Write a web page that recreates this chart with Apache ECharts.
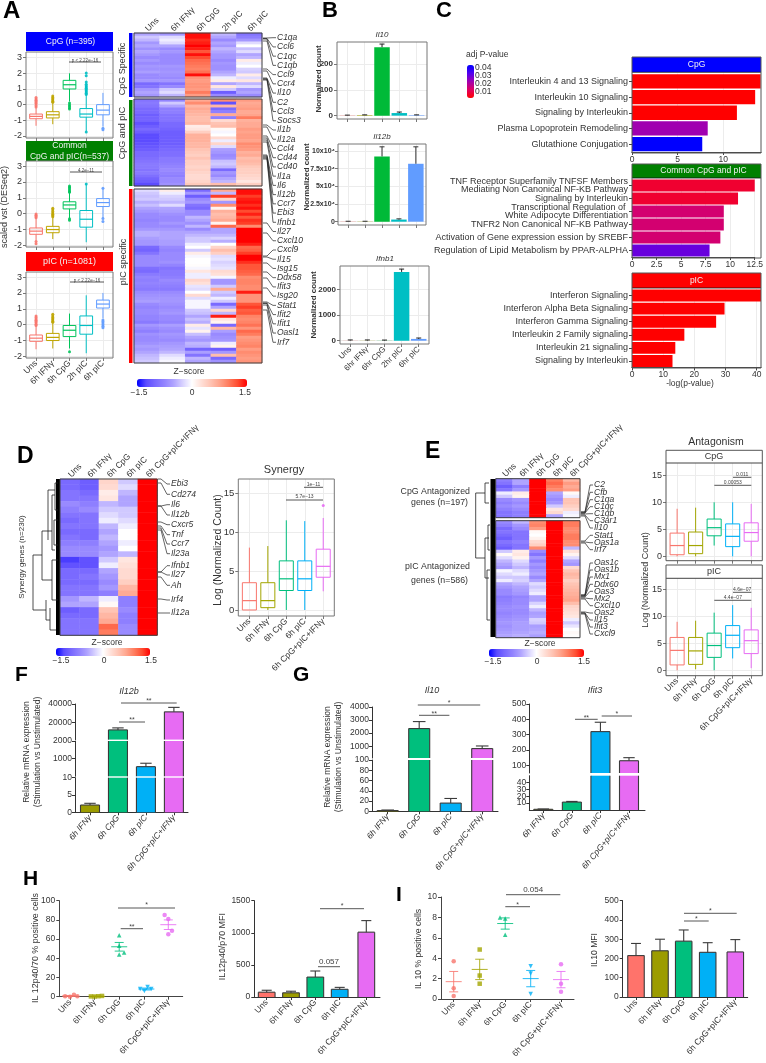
<!DOCTYPE html>
<html><head><meta charset="utf-8">
<style>html,body{margin:0;padding:0;background:#fff}#c{width:766px;height:1063px}</style>
<script src="https://cdn.jsdelivr.net/npm/echarts@6/dist/echarts.min.js"></script>
</head><body><div id="c"></div>
<script>
// ---------- DATA ----------
const timeA=['Uns','6h IFNγ','6h CpG','2h pIC','6h pIC'];
const timeB=['Uns','6hr IFNγ','6hr CpG','2hr pIC','6hr pIC'];
const stim5=['Uns','6h IFNγ','6h CpG','6h pIC','6h CpG+pIC+IFNγ'];
const stim4=['6h IFNγ','6h CpG','6h pIC','6h CpG+pIC+IFNγ'];
// box stats: min,q1,median,q3,max
const boxACpG=[[-1.35,-.9,-.75,-.6,-.2],[-1.25,-.85,-.65,-.45,.1],[.2,1.0,1.27,1.55,2.0],[-1.7,-.8,-.6,-.25,.6],[-1.4,-.65,-.35,0,.75]];
const outACpG=[[0,-.15],[0,-.05],[0,.05],[0,.12],[0,.2],[0,.28],[0,.36],[0,.45],[1,.15],[1,.22],[1,.3],[1,.38],[1,.46],[1,.55],[2,.1],[2,0],[2,-.1],[2,-.2],[2,-.28],[3,.65],[3,.72],[3,.8],[3,.88],[3,.96],[3,1.04],[3,1.12],[3,1.2],[3,1.3],[3,1.45],[3,1.85],[3,2.02],[3,-1.75],[4,-1.5],[4,-1.6]];
const boxABoth=[[-1.7,-1.3,-1.1,-.9,-.3],[-1.6,-1.2,-1.0,-.8,-.25],[-.3,.3,.55,.75,1.3],[-1.8,-.85,-.35,.2,1.85],[-.3,.45,.7,.95,1.6]];
const outABoth=[[0,-.25],[0,-.18],[0,-.1],[0,-.02],[0,-1.75],[0,-1.9],[1,-.2],[1,-.12],[1,-.04],[1,.05],[1,.14],[1,.24],[1,.34],[2,1.35],[2,1.42],[2,1.5],[2,1.58],[2,1.66],[2,1.75],[2,-.32],[2,-.42],[3,1.87],[4,1.6],[4,-.3],[4,-.5]];
const boxApIC=[[-1.55,-1.05,-.85,-.65,-.1],[-1.5,-1.0,-.8,-.55,.1],[-1.5,-.75,-.35,-.05,.7],[-1.8,-.6,-.05,.55,1.85],[.4,1.05,1.3,1.55,2.0]];
const outApIC=[[0,-.05],[0,.03],[0,.12],[0,.2],[0,.28],[0,.36],[0,.46],[0,.55],[1,.15],[1,.22],[1,.3],[1,.38],[1,.46],[1,.55],[1,.65],[2,-1.7],[4,.3],[4,.2],[4,.1],[4,0],[4,-.1],[4,-.2]];
const heatACpG=[[-.5,-.6,1.45,-.4,-.9],[-.3,-.2,1.45,-.5,-.8],[-.4,-.1,1.35,-.7,-.6],[-.6,-.2,1.4,-.5,-.2],[-.5,-.5,1.5,-.6,0],[-.65,-.7,1.4,-.4,-.35],[-.5,-.6,1.2,-.5,-.2],[-.6,-.7,1.45,-.6,-.5],[-.7,-.7,1.25,-.6,-.4],[-.6,-.7,1.1,-.7,.15],[-.7,-.7,1.05,-.6,-.1],[-.6,-.6,1.0,-.65,0],[-.65,-.65,.95,-.65,-.25],[-.55,-.6,1.05,-.5,-.3],[-.7,-.65,1.45,-.4,.15],[-.7,-.7,.85,-.1,-.2],[-.6,-.6,.8,.15,.2],[-1.0,-.9,.85,-.5,-.4],[-.9,-.7,.85,.2,-.2],[-.6,-.3,.8,-.3,-.6],[-.5,-.2,1.0,-1.1,-.5],[-.6,-.4,.8,-.7,-.7]];
const heatABoth=[[-.9,-.75,.7,.9,.8],[-.85,-.3,.9,-1.2,.7],[-.9,-.5,.6,.6,.75],[-1.0,-.8,.7,-1.0,.8],[-1.0,-.8,.65,-.8,.7],[-1.1,-.9,.6,.7,.75],[-1.05,-.9,.55,-.8,1.0],[-1.05,-.9,.55,.3,.65],[-1.2,-1.0,.6,.5,.7],[-1.1,-1.0,.15,.55,.7],[-1.0,-1.05,.2,.05,.8],[-1.1,-1.1,.4,-.05,.75],[-1.25,-1.1,.65,0,.8],[-1.25,-1.1,.65,.3,.8],[-1.25,-1.1,.65,-.1,.75],[-1.2,-1.1,.6,.35,.9],[-1.15,-1.05,.6,-.2,.85],[-1.1,-1,.5,-.55,.8],[-1.0,-.95,.45,-.6,.65],[-1.0,-.95,.4,-.7,.7],[-.95,-.85,.5,-.65,.55],[-.9,-.85,.4,-.35,.6],[-.85,-.8,.4,-.3,.55],[-.85,-.75,.35,-.4,.45],[-.9,-.7,.4,-1.0,.4],[-.85,-.75,.35,-.6,.4],[-.95,-.8,.3,-.7,.35],[-1.05,-.7,.3,-.5,.3],[-1.1,-.7,.35,-.4,.2],[-1.25,-.65,.45,.55,.4]];
const heatApIC=[[-.2,.15,-1.0,.7,1.45],[-.3,-.1,-.6,-.4,1.45],[-.35,-.25,-1.1,1.3,1.3],[-.3,-.3,-.7,.35,1.4],[-.45,-.4,-.6,-.6,1.45],[-.35,-.2,-.9,.9,1.35],[-.5,-.5,-1.0,.1,1.45],[-.6,-.55,-.7,.65,1.25],[-.7,-.65,-.7,.55,1.4],[-.7,-.7,-.4,.6,1.2],[-.75,-.7,-.5,.7,1.35],[-.7,-.6,-.65,.1,1.3],[-.7,-.7,-.4,1.1,.9],[-.6,-.6,-.7,-.5,1.5],[-.45,-.5,-.5,-.5,1.5],[-.45,-.5,-.4,-.4,1.5],[-.55,-.5,-.3,-.25,1.5],[-.6,-.55,-.3,-.45,1.5],[-.6,-.55,-.1,0,1.4],[-1.0,-.7,.0,.35,1.1],[-1.05,-.75,-.3,.55,1.15],[-.9,-.7,.15,.4,1.3],[-.7,-.7,-.05,-.2,1.5],[-.7,-.7,.0,-.15,1.5],[-.7,-.65,0,-.25,1.35],[-.7,-.75,.02,-.2,1.2],[-.95,-.9,-.05,-.15,1.2],[-1.0,-.85,.2,.3,1.15],[-.85,-.85,-.1,.25,1.1],[-.75,-.8,-.1,-.05,.9],[-.8,-.7,.35,-.6,.95],[-.75,-.75,.25,-.6,.95],[-.8,-.8,-.15,-.3,.9],[-.85,-.85,-.2,.7,.9],[-.7,-.7,0,-.3,1.4],[-.65,-.65,.3,-.4,.85],[-.6,-.6,-.2,-.1,.85],[-.55,-.6,-.05,-.3,.85],[-.7,-.65,-.05,-1.0,1.2],[-.75,-.7,-.05,-.5,1.3],[-.7,-.65,-.3,.3,1.15],[-.7,-.6,-.35,-.4,1.2],[-.75,-.7,-.5,1.4,.95],[-.75,-.7,-.35,.2,.9],[-.85,-.75,-.45,.1,.95],[-.6,-.55,.15,-1.0,1.05],[-.7,-.65,-.15,.6,.85],[-.8,-.7,.1,-.55,1.1],[-.65,-.6,-.35,-.7,1.0],[-.7,-.65,-.5,-.65,.8],[-.7,-.7,-.6,-.6,.85],[-.65,-.6,-.4,-.1,.9],[-.55,-.55,-.45,.1,.95],[-.6,-.5,-1.05,-1.1,.8],[-.5,-.4,-.55,-.6,.9],[-.4,-.2,-.9,.55,.85],[-.35,-.1,-.4,-1.0,.8],[-.3,-.05,-.5,-.65,.85]];
const heatD=[[-1,-1.1,.35,-.3,1.5],[-1,-1.1,.3,-.2,1.5],[-.9,-1,.15,-.4,1.5],[-.9,-.9,.2,-.5,1.5],[-.7,-.8,-.4,-.5,1.5],[-.8,-.7,-.3,-.3,1.5],[-.9,-.9,-.2,-.3,1.5],[-1,-.9,-.1,-.2,1.5],[-.9,-.9,-.4,-.1,1.5],[-1,-1,-.5,0,1.5],[-.9,-1,-.4,0,1.5],[-.8,-.8,-.5,-.1,1.5],[-.7,-.7,-.6,0,1.5],[-.7,-.7,-.5,-.4,1.5],[-1.3,-1.2,-.3,.2,1.5],[-1.2,-1.2,-.1,.25,1.5],[-1,-1,-.5,.3,1.5],[-1,-.9,-.6,.3,1.5],[-1,-1,-.7,.4,1.5],[-.9,-.9,-.6,.6,1.5],[-.9,-.9,-.8,.7,1.5],[-.6,-.4,-.1,-.8,1.5],[-.5,-.5,.05,-.8,1.5],[-1.1,-1,.5,-.7,1.5],[-1,-1,.6,-.8,1.5],[-.9,-.9,.7,-.8,1.5],[-.9,-.9,1.1,-.7,1.5],[-.9,-.9,1.0,-.7,1.5]];
const heatEup=[[-.8,-.5,1.5,1.0,.6],[-.9,-.5,1.5,1.1,.8],[-1.1,-.8,1.5,1.0,.7],[-.9,-.6,1.5,.9,.8],[-.1,.15,1.5,-.5,.05],[-.3,.1,1.5,-.6,-.1],[-.7,-.6,1.5,-.7,.5],[-.8,-.7,1.5,-.6,.5],[-.7,-.6,1.5,-.3,.4],[-.8,-.7,1.5,.2,.3],[-.9,-.8,1.5,.3,-.1],[-.9,-.8,1.5,-.5,-.05]];
const heatElow=[[-.7,-.4,.9,1.5,1.0],[-.8,-.6,.95,1.5,1.0],[-1,-.7,.8,1.5,.9],[-.9,-.9,.05,1.5,.9],[-1.0,-.9,0,1.5,1.0],[-1.1,-.9,.1,1.5,1.0],[-.9,-.8,.3,1.5,.9],[-1,-.9,.4,1.5,.9],[-1.1,-.9,.9,1.5,-.4],[-.3,.15,-.7,1.5,.25],[.05,.2,-.9,1.5,.1],[-.2,.1,-.6,1.5,-.2],[-.4,-.2,-.8,1.5,-.5],[-.5,-.3,-.6,1.5,-.6],[-.6,-.4,-.7,1.5,.3],[-.05,-.2,-.6,1.5,.5],[-.2,-.1,-.5,1.5,.6],[-.3,-.3,-.7,1.5,.55],[-.1,-.25,-.5,1.5,.4],[-.5,-.4,-.2,1.5,.5],[-.6,-.5,-.3,1.5,.55],[-.7,-.55,-.2,1.5,.6],[-.7,-.6,-.1,1.5,.65],[-.85,-.75,-.5,1.5,.7],[-.8,-.7,-.5,1.5,.75],[-.75,-.7,-.25,1.5,.55],[-.7,-.65,-.1,1.5,.35],[-.7,-.7,-.4,1.5,.3],[-.75,-.7,-.55,1.5,.25],[-.7,-.65,-.5,1.5,.2],[-.65,-.6,-.25,1.5,-.1],[-.6,-.55,-.3,1.5,-.3],[-.65,-.55,-.55,1.5,-.15],[-.6,-.55,-.5,1.5,0],[-.55,-.5,-.45,1.5,.05],[-.5,-.45,-.55,1.5,.02]];
const bIl10=[1,2,265,10,2], bIl10Err=[2,3,277,14,3];
const bIl12b=[300,300,92400,3000,82000], bIl12bErr=[600,600,106000,4000,106000];
const bIfnb1=[5,5,5,2680,70], bIfnb1Err=[30,30,25,2790,105];
const cCpGNames=['Interleukin 4 and 13 Signaling','Interleukin 10 Signaling','Signaling by Interleukin','Plasma Lopoprotein Remodeling','Glutathione Conjugation'];
const cCpGVals=[14.1,13.5,11.5,8.3,7.7], cCpGP=[.004,.004,.004,.024,.044];
const cBothNames=['TNF Receptor Superfamily TNFSF Members\nMediating Non Canonical NF-KB Pathway','Signaling by Interleukin','Transcriptional Regulation of \nWhite Adipocyte Differentiation','TNFR2 Non Canonical NF-KB Pathway','Activation of Gene expression ession by SREBF','Regulation of Lipid Metabolism by PPAR-ALPHA'];
const cBothVals=[12.5,10.8,9.35,9.35,9,7.9], cBothP=[.009,.009,.016,.016,.016,.031];
const cpICNames=['Interferon Signaling','Interferon Alpha Beta Signaling','Interferon Gamma Signaling','Interleukin 2 Family signaling','Interleukin 21 signaling','Signaling by Interleukin'];
const cpICVals=[41.4,29.7,27,16.8,13.9,13], cpICP=[.004,.004,.004,.004,.004,.004];
const boxSyn=[[0,0,1.2,3.5,8],[0,.3,1.2,3.5,8.2],[0,2.5,4,6.3,11.5],[0,2.5,4,6.3,11.4],[2.4,4.2,5.6,7.8,11.8]];
const outSyn=[[4,13.4]];
const boxEC=[[0,.3,2,4.3,8.8],[0,.5,2,4.5,9],[2,3.8,5.3,6.9,10],[0,1.8,3.7,6,10],[0,2.8,4.4,6.2,9.7]];
const boxEP=[[0,1,3.7,6.1,9],[.2,1.1,3.6,6.1,9.2],[0,2.4,4.6,6.9,10.7],[2.2,4.2,6.5,8.3,12.1],[.4,3.1,5.5,7.5,11.6]];
const fIl12b=[2.1,12350,555,31600], fIl12bErr=[2.6,14500,746,36400];
const gIl10=[1.5,2350,16,820], gIl10Err=[2.5,2885,25,1020];
const gIfit3=[1,11.5,320,130], gIfit3Err=[1.5,12.5,381,150];
const hPct=[[[-.2,.5],[0,0],[.16,2],[.3,.5]],[[-.15,.3],[0,.2],[.15,.5],[.3,.8]],[[0,64],[0,53],[0,44],[.2,46]],[[-.15,8],[.02,6],[.15,10],[.3,8]],[[-.15,85],[0,81],[.15,68.7],[0,65]]];
const hPctMean=[[0,.8,.4],[.1,.4,.15],[0,52,4.5],[.1,8,1],[0,75,5]];
const hMfi=[75,65,310,120,1010], hMfiErr=[105,90,405,150,1190];
const iPct=[[[0,3.7],[0,1.05],[0,.3]],[[0,4.85],[0,2.3],[0,1.5]],[[-.2,8],[0,7.9],[0,6.3]],[[0,3.2],[0,2.5],[0,.5]],[[0,3.4],[0,1.5],[0,.7]]];
const iPctMean=[[0,1.7,1.0],[0,2.9,1.0],[0,7.4,.55],[0,2,.8],[0,1.9,.8]];
const iMfi=[215,240,290,232,234], iMfiErr=[278,300,348,282,298];
const genesA=['C1qa','Ccl6','C1qc','C1qb','Ccl9','Ccr4','Il10','C2','Ccl3','Socs3','Il1b','Il12a','Ccl4','Cd44','Cd40','Il1a','Il6','Il12b','Ccr7','Ebi3','Ifnb1','Il27','Cxcl10','Cxcl9','Il15','Isg15','Ddx58','Ifit3','Isg20','Stat1','Ifit2','Ifit1','Oasl1','Irf7'];
const genesD=['Ebi3','Cd274','Il6','Il12b','Cxcr5','Tnf','Ccr7','Il23a','Ifnb1','Il27','Ah','Irf4','Il12a'];
const genesE=['C2','Cfb','C1qa','C1qc','C1qb','C3ar1','Il10','Stat1','Oas1a','Irf7','Oas1c','Oas1b','Mx1','Ddx60','Oas3','Mx2','Cxcl10','Oas2','Il15','Ifit3','Cxcl9'];

// ---------- STYLES ----------
const FF='"Liberation Sans",Arial,sans-serif', TXT='#333';
const palA=['#F8766D','#BFA500','#00C45A','#00BFC4','#619CFF'];
const palB=['#F8766D','#A3A500','#00BA38','#00BFC4','#619CFF'];
const pal5=['#F8766D','#A3A500','#00BF7D','#00B0F6','#E76BF3'];
const palBar=['#FF736B','#9C9C00','#00BF7D','#00B0F6','#E76BF3'];
const pal4=palBar.slice(1);
const GRID='#ececec', ZC=['#0000ff','#5c4cff','#7a6aff','#9384ff','#b0a4ff','#d8d2ff','#ffffff','#ffe0d8','#ffc4b4','#ffa48c','#ff7c5e','#ff4c30','#ff0000'];

const grids=[],xAxes=[],yAxes=[],series=[],gfx=[],vms=[];
const T=(x,y,text,o={})=>gfx.push({type:'text',x,y,rotation:o.rot||0,z:100,silent:true,style:{text,fontFamily:FF,fontSize:o.size||8,fontStyle:o.style||'normal',fontWeight:o.weight||'normal',fill:o.color||TXT,textAlign:o.align||'center',textVerticalAlign:'middle',lineHeight:o.lh}});
const L=(pts,o={})=>gfx.push({type:'polyline',z:o.z||90,silent:true,shape:{points:pts},style:{stroke:o.color||'#333',lineWidth:o.w||.8,fill:'none'}});
const R=(x,y,w,h,fill,stroke)=>gfx.push({type:'rect',z:stroke&&fill==='none'?95:80,silent:true,shape:{x,y,width:w,height:h},style:{fill:fill==='none'?'transparent':fill,stroke:stroke||'none',lineWidth:stroke?1:0}});
const BR=(x1,x2,y,label,size,dy,col)=>{L([[x1,y],[x2,y]],{color:col||'#444',w:.9});T((x1+x2)/2,y-(dy==null?3:dy),label,{size:size||6,color:col||'#444'})};
const STRIP=(x,y,w,h,col,text,size,dx)=>{R(x,y,w,h,col);T(x+w/2+(dx||0),y+h/2,text,{size:size||9,color:'#f2f2f2',lh:11.5})};

function P(c){
  grids.push({left:c.l,top:c.t,width:c.w,height:c.h,show:false});
  const i=grids.length-1, xt=c.xt||[], xl=c.xl||[];
  xAxes.push({gridIndex:i,type:'value',min:c.xmin,max:c.xmax,
    axisLine:{show:c.xline!==false,onZero:false,lineStyle:{color:c.axisColor||'#333',width:c.axisW||1}},
    axisTick:{show:c.xtick!==false,customValues:xt,length:3,lineStyle:{color:c.axisColor||'#333'}},
    axisLabel:{show:!!c.xshow,customValues:xt,formatter:v=>xl[xt.indexOf(v)]??'',rotate:c.rot==null?45:c.rot,fontSize:c.xsize||8.5,fontFamily:FF,color:TXT,fontStyle:c.xstyle||'normal',margin:c.xmargin||4},
    splitLine:{show:!!c.gridlines,lineStyle:{color:GRID,width:1}},minorSplitLine:{show:false}});
  yAxes.push({gridIndex:i,type:'value',min:c.ymin,max:c.ymax,
    axisLine:{show:c.yline!==false,onZero:false,lineStyle:{color:c.axisColor||'#333',width:c.axisW||1}},
    axisTick:{show:true,customValues:c.yt,length:3,lineStyle:{color:c.axisColor||'#333'}},
    axisLabel:{show:c.yshow!==false,customValues:c.yt,formatter:c.yfmt||(v=>String(v)),fontSize:c.ysize||8.5,fontFamily:FF,color:TXT,fontWeight:c.yweight||'normal',margin:c.ymargin||4},
    splitLine:{show:!!c.gridlines,lineStyle:{color:GRID,width:1}}});
  if(c.frame)R(c.l,c.t,c.w,c.h,'none',c.frame);
  return i;
}
function boxes(g,stats,pal,out,hw){
  series.push({type:'custom',xAxisIndex:g,yAxisIndex:g,silent:true,z:3,
    data:stats.map((s,i)=>[i,...s]),encode:{x:0,y:[1,2,3,4,5]},
    renderItem(p,api){
      const x=api.value(0),c=pal[x],Y=k=>api.coord([x,api.value(k)])[1],xc=api.coord([x,0])[0],w=api.size([hw||.38,0])[0];
      const st={stroke:c,lineWidth:1,fill:'transparent'},ln=(a,b,d,e,lw)=>({type:'line',shape:{x1:a,y1:b,x2:d,y2:e},style:{stroke:c,lineWidth:lw||1}});
      return {type:'group',children:[
        ln(xc,Y(1),xc,Y(2)),ln(xc,Y(4),xc,Y(5)),
        {type:'rect',shape:{x:xc-w,y:Y(4),width:2*w,height:Y(2)-Y(4)},style:st},
        ln(xc-w,Y(3),xc+w,Y(3),1.2)]};
    }});
  if(out&&out.length)series.push({type:'scatter',xAxisIndex:g,yAxisIndex:g,silent:true,z:2,symbolSize:3,data:out,itemStyle:{color:p=>pal[p.data[0]],opacity:.9}});
}
function errs(g,xs,vals,tops,col,capPx){
  series.push({type:'custom',xAxisIndex:g,yAxisIndex:g,silent:true,z:4,data:xs.map((x,i)=>[x,vals[i],tops[i]]),encode:{x:0,y:[1,2]},
    renderItem(p,api){const a=api.coord([api.value(0),api.value(1)]),b=api.coord([api.value(0),api.value(2)]);
      return {type:'group',children:[{type:'line',shape:{x1:a[0],y1:a[1],x2:b[0],y2:b[1]},style:{stroke:col,lineWidth:1}},{type:'line',shape:{x1:a[0]-capPx,y1:b[1],x2:a[0]+capPx,y2:b[1]},style:{stroke:col,lineWidth:1}}]};}});
}
function heat(box,rows,cols,showCols,size){
  grids.push({left:box[0],top:box[1],width:box[2],height:box[3],show:false});
  const g=grids.length-1;
  xAxes.push({gridIndex:g,type:'category',position:'top',data:cols,axisLine:{show:false},axisTick:{show:false},splitLine:{show:false},
    axisLabel:{show:!!showCols,interval:0,rotate:-45,fontSize:size||8.5,fontFamily:FF,color:TXT,margin:3}});
  yAxes.push({gridIndex:g,type:'category',inverse:true,data:rows.map((_,i)=>i),show:false});
  const d=[];rows.forEach((r,y)=>r.forEach((v,x)=>d.push([x,y,v])));
  series.push({type:'heatmap',xAxisIndex:g,yAxisIndex:g,data:d,silent:true,progressive:0});
  R(box[0],box[1],box[2],box[3],'none','#3c3c3c');
  return series.length-1;
}
function cbar(left,top,len,th,idx,xn,xz,xp,ly){
  vms.push({type:'continuous',orient:'horizontal',left,top,itemWidth:th,itemHeight:len,padding:0,min:-1.5,max:1.5,calculable:false,text:null,showLabel:false,hoverLink:false,seriesIndex:idx,inRange:{color:ZC},textStyle:{fontSize:0}});
  T(xn,ly,'−1.5',{size:8.5});T(xz,ly,'0',{size:8.5});T(xp,ly,'1.5',{size:8.5});
}
// error-barred GraphPad style bars, clipped to one axis segment
function gpBars(g,xs,vals,tops,cols,ymin,ymax,wpx){
  series.push({type:'custom',xAxisIndex:g,yAxisIndex:g,silent:true,z:3,data:xs.map((x,i)=>[x,vals[i],tops[i],i]),encode:{x:0,y:[1,2]},
    renderItem(p,api){
      const x=api.value(0),v=api.value(1),tp=api.value(2),c=cols[api.value(3)];
      if(v<=ymin)return;
      const base=api.coord([x,ymin]),end=api.coord([x,Math.min(v,ymax)]),hw=wpx/2,ink='#3a3a3a',kids=[];
      const ln=(a,b,d,e)=>({type:'line',z2:2,shape:{x1:a,y1:b,x2:d,y2:e},style:{stroke:ink,lineWidth:1.1}});
      kids.push({type:'rect',shape:{x:base[0]-hw,y:end[1],width:wpx,height:base[1]-end[1]},style:{fill:c}});
      kids.push(ln(base[0]-hw,base[1],base[0]-hw,end[1]),ln(base[0]+hw,base[1],base[0]+hw,end[1]));
      if(v<=ymax){
        const e=api.coord([x,tp]);
        kids.push(ln(base[0]-hw,end[1],base[0]+hw,end[1]),ln(base[0],end[1],base[0],e[1]),ln(base[0]-hw*.6,e[1],base[0]+hw*.6,e[1]));
      }
      return {type:'group',children:kids};
    }});
}
function genes(names,ys,srcY,x0,x1,x2,x3,size){
  names.forEach((n,i)=>{T(x3+1,ys[i],n,{size:size||8.5,style:'italic',align:'left'});L([[x0,srcY[i]],[x1,srcY[i]],[x2,ys[i]],[x3,ys[i]]],{color:'#222',w:.7});});
}

// ---------- LETTERS ----------
[['A',3,11,24],['B',322,11,22],['C',436,11,22],['D',17,457,23],['E',425,452,23],['F',15,675,21],['G',293,675,21],['H',23,879,21],['I',396,895,21]].forEach(a=>T(a[1],a[2],a[0],{size:a[3],weight:'bold',align:'left',color:'#000'}));

// ---------- A: boxes ----------
const ggX={xmin:-.6,xmax:4.6,xt:[0,1,2,3,4],gridlines:true,axisColor:'#777'};
const y3=[-2,-1,0,1,2,3];
STRIP(26,32,87,19,'#0000ff','CpG (n=395)',8.5,1);
let g=P({...ggX,l:26,t:52,w:87,h:86,ymin:-2.13,ymax:3.36,yt:y3,frame:'#777',yline:false,xline:false,ysize:9});
boxes(g,boxACpG,palA,outACpG);BR(69,101,62,'p < 2.22e−16',4.5,1.5);
STRIP(26,141,87,20,'#008000','Common\nCpG and pIC(n=537)',8.5,0);
g=P({...ggX,l:26,t:161,w:87,h:86,ymin:-2.1,ymax:3.32,yt:y3,frame:'#777',yline:false,xline:false,ysize:9});
boxes(g,boxABoth,palA,outABoth);BR(70,102,172,'4.2e−11',4.5,1.5);
STRIP(26,252,87,19,'#ff0000','pIC (n=1081)',9,0);
g=P({...ggX,l:26,t:272,w:87,h:86,ymin:-2.1,ymax:3.32,yt:y3,frame:'#777',yline:false,xline:false,ysize:9,xshow:true,xl:timeA,xsize:8.5});
boxes(g,boxApIC,palA,outApIC);BR(70,104,282,'p < 2.22e−16',4.5,1.5);
T(5,207,'scaled vst (DESeq2)',{size:9,rot:Math.PI/2});

// ---------- A: heat ----------
const hA=[heat([134,33,128,64],heatACpG,timeA,true),heat([134,99,128,87],heatABoth,timeA),heat([134,189,128,174],heatApIC,timeA)];
R(129,33,3.5,64,'#0000ff');R(129,100,3.5,86,'#008000');R(129,189,3.5,174,'#ff0000');
T(123,69,'CpG Specific',{size:9,rot:Math.PI/2});T(123,133,'CpG and pIC',{size:9,rot:Math.PI/2});T(124,262,'pIC specific',{size:9,rot:Math.PI/2});
cbar(137,379,110,8,hA,139,192,245,393);T(189,372,'Z−score',{size:8.5});
const yA=genesA.map((_,i)=>37.7+i*9.23);
const srcA=[38,38.5,39,41,69,71,78,79,79,80,125,127,136,138,140,142,155,156,157,158,159,223,233,256,257,263,272,278,288,302,303,303.5,305,310];
genes(genesA,yA,srcA,263,267,273,276);

// ---------- B ----------
const bxt=[0,1,2,3,4], xs5=[0,1,2,3,4];
const bold={yweight:'bold',ysize:8,axisColor:'#777',yline:false,xline:false,frame:'#777',gridlines:true};
g=P({...ggX,...bold,l:337,t:42,w:90,h:77,ymin:-13,ymax:285,yt:[0,100,200]});
series.push({type:'bar',xAxisIndex:g,yAxisIndex:g,barWidth:15.5,silent:true,data:bIl10.map((v,i)=>({value:[i,v],itemStyle:{color:palB[i]}}))});
errs(g,xs5,bIl10,bIl10Err,'#222',2.5);
T(382,35,'Il10',{size:8,style:'italic'});T(319,79,'Normalized count',{size:8,weight:'bold',rot:Math.PI/2});
g=P({...ggX,...bold,l:338,t:144,w:88,h:81,ymin:-4700,ymax:110000,yt:[0,25000,50000,75000,100000],yfmt:v=>v===0?'0':(v/10000)+'x10⁴',ysize:7,ymargin:3});
series.push({type:'bar',xAxisIndex:g,yAxisIndex:g,barWidth:15.5,silent:true,data:bIl12b.map((v,i)=>({value:[i,v],itemStyle:{color:palB[i]}}))});
errs(g,xs5,bIl12b,bIl12bErr,'#333',2.5);
T(382,137,'Il12b',{size:8,style:'italic'});T(307,177,'Normalized count',{size:8,weight:'bold',rot:Math.PI/2});
g=P({...ggX,...bold,l:340,t:266,w:89,h:78,ymin:-128,ymax:2910,yt:[0,1000,2000],xshow:true,xl:timeB,xsize:8});
series.push({type:'bar',xAxisIndex:g,yAxisIndex:g,barWidth:15.5,silent:true,data:bIfnb1.map((v,i)=>({value:[i,v],itemStyle:{color:palB[i]}}))});
errs(g,xs5,bIfnb1,bIfnb1Err,'#222',2.5);
T(385,259,'Ifnb1',{size:8,style:'italic'});T(314,305,'Normalized count',{size:8,weight:'bold',rot:Math.PI/2});

// ---------- C ----------
function cPanel(l,t,w,h,names,vals,ps,xmax,xt,xlab){
  grids.push({left:l,top:t,width:w,height:h,show:false});
  const gi=grids.length-1;
  xAxes.push({gridIndex:gi,type:'value',min:0,max:xmax,axisLine:{show:true,lineStyle:{color:'#444'}},axisTick:{show:true,customValues:xt,length:3,lineStyle:{color:'#444'}},
    axisLabel:{customValues:xt,formatter:v=>xlab?xlab[xt.indexOf(v)]:String(v),fontSize:8.5,fontFamily:FF,color:TXT,margin:3},splitLine:{show:true,lineStyle:{color:GRID}}});
  yAxes.push({gridIndex:gi,type:'category',inverse:true,data:names,axisLine:{show:false},axisTick:{show:true,length:3,alignWithLabel:true,lineStyle:{color:'#444'}},
    axisLabel:{interval:0,fontSize:9,fontFamily:FF,color:TXT,margin:4,lineHeight:8.5,align:'right'},splitLine:{show:false}});
  series.push({type:'bar',xAxisIndex:gi,yAxisIndex:gi,silent:true,barCategoryGap:'9%',data:vals.map((v,i)=>[v,i,ps[i]]),encode:{x:0,y:1}});
  return series.length-1;
}
const cS=[cPanel(632,73.5,129,78.5,cCpGNames,cCpGVals,cCpGP,14.14,[0,5,10]),
  cPanel(632,179,129,78,cBothNames,cBothVals,cBothP,12.5,[0,2.5,5,7.5,10,12.5]),
  cPanel(632,289,129,78.5,cpICNames,cpICVals,cpICP,41.4,[0,10,20,30,40])];
STRIP(632,57,129,15,'#0000ff','CpG',8.5);STRIP(632,164,129,14,'#008000','Common CpG and pIC',8.5,7);STRIP(632,273,129,15,'#ff0000','pIC',8.5);
R(632,57,129,96,'none','#555');R(632,164,129,94,'none','#555');R(632,273,129,95,'none','#555');
L([[632,72.3],[761,72.3]],{color:'#111'});L([[632,178],[761,178]],{color:'#111'});L([[632,288],[761,288]],{color:'#111'});
T(690,384,'-log(p-value)',{size:8.5});
T(466,55,'adj P-value',{size:8.5,align:'left'});
vms.push({type:'continuous',orient:'vertical',left:467,top:65,itemWidth:7,itemHeight:33,padding:0,min:.004,max:.044,dimension:2,calculable:false,text:null,showLabel:false,hoverLink:false,seriesIndex:cS,inRange:{color:['#ff0000','#e00060','#a000b0','#5000f0','#0000ff']},textStyle:{fontSize:0}});
[['0.04',68],['0.03',76],['0.02',84],['0.01',92]].forEach(a=>T(475,a[1],a[0],{size:8.5,align:'left'}));

// ---------- D ----------
const hD=heat([60,479,97.3,156.3],heatD,stim5,true,8.5);
cbar(56,648,94,8,[hD],61,104,151,661);T(107,642.5,'Z−score',{size:8.5});
T(22,557,'Synergy genes (n=230)',{size:8,rot:Math.PI/2});
const dendroD=[[[42,555],[33,555],[33,610],[46,610]],[[52,531],[42,531],[42,580],[52,580]],[[55,495],[52,495],[52,550],[55,550]],[[58,483],[55,483],[55,510],[58,510]],[[58,520],[54,520],[54,545],[58,545]],[[58,560],[52,560],[52,600],[58,600]],[[46,600],[46,620],[50,620]],[[50,608],[50,630],[56,630]],[[55,490],[48,490],[48,540]]];
dendroD.forEach(p=>L(p,{color:'#222',w:.8}));R(56,479,4,156,'#000');
genes(genesD,[484,494.3,504.7,515,524.7,534.7,544,553.7,565.7,575,585.3,600,613],[479,483,506,506,522,526,528,530,572,572,577,599,613],158,161,167,170,8.5);

// ---------- Synergy ----------
g=P({...ggX,l:238.3,t:479,w:96,h:137,ymin:-.77,ymax:16.8,yt:[0,5,10,15],frame:'#777',yline:false,xline:false,ysize:9.5,xshow:true,xl:stim5,xsize:8.5});
boxes(g,boxSyn,pal5,outSyn);
BR(286,323,500,'5.7e−13',5,3);BR(304,323,487.3,'1e−11',5,3);
T(284,470,'Synergy',{size:11});T(218,550,'Log (Normalized Count)',{size:10.5,rot:Math.PI/2});

// ---------- E ----------
const hE=[heat([495.7,478.7,84.3,39],heatEup,stim5,true,8.5),heat([495.7,520.7,84.3,117],heatElow,stim5)];
cbar(489,649,95,8,hE,493,537,584,662);T(540,644,'Z−score',{size:8.5});
T(470,492,'CpG Antagonized',{size:8.8,align:'right'});T(468,503,'genes (n=197)',{size:8.8,align:'right'});
T(470,567,'pIC Antagonized',{size:8.8,align:'right'});T(468,581,'genes (n=586)',{size:8.8,align:'right'});
const dendroE=[[[485,493],[475.7,493],[475.7,558],[485,558]],[[489,483],[485,483],[485,503],[489,503]],[[489,538],[485,538],[485,578],[489,578]],[[490,525],[488,525],[488,550],[490,550]],[[490,570],[487,570],[487,620],[490,620]]];
dendroE.forEach(p=>L(p,{color:'#222',w:.8}));R(490.5,479,5,158,'#000');
genes(genesE,[485,492.3,499.7,506.7,513.7,520.7,528,535.3,542.7,549.7,563,570,577,584.3,591.3,598.7,605.7,613,620,627,634],[512,512,513,513,514,515,516,541,542,543,595,595,596,596,597,598,599,612,613,613,614],581,585,590,593,8.5);

// ---------- Antagonism ----------
T(716,442,'Antagonism',{size:10.5});
STRIP(666,450.3,96.3,12.7,'#ffffff','',8);T(714,456.7,'CpG',{size:9});
R(666,450.3,96.3,110.4,'none','#555');L([[666,463],[762.3,463]],{color:'#111'});
g=P({...ggX,l:666,t:463.3,w:96.3,h:97.4,ymin:-.8,ymax:17.2,yt:[0,5,10,15],yline:false,xline:false,ysize:9});
boxes(g,boxEC,pal5);BR(714.3,751.3,485.3,'0.00053',5,3);BR(733,751.3,477.3,'0.011',5,3);
STRIP(666,565,96.3,13,'#ffffff','',8);T(714,571.5,'pIC',{size:9});
R(666,565,96.3,110.7,'none','#555');L([[666,578.3],[762.3,578.3]],{color:'#111'});
g=P({...ggX,l:666,t:578.7,w:96.3,h:97,ymin:-1,ymax:17,yt:[0,5,10,15],yline:false,xline:false,ysize:9,xshow:true,xl:stim5,xsize:8.5});
boxes(g,boxEP,pal5);BR(714.3,751.3,600.3,'4.4e−07',5,3);BR(733,751.3,592.3,'4.6e−07',5,3);
T(646,580,'Log (Normalized Count)',{size:9,rot:Math.PI/2});

// ---------- F / G broken axes ----------
function broken(left,right,centers,vals,tops,wpx,segs,labels){
  const sp=(centers[centers.length-1]-centers[0])/(centers.length-1);
  const xmin=(left-centers[0])/sp, xmax=(right-centers[0])/sp, xs=centers.map((_,i)=>i);
  segs.forEach((s,k)=>{
    const gi=P({l:left,t:s.t,w:right-left,h:s.b-s.t,xmin,xmax,xt:k===0?xs:[],xl:k===0?labels:[],xshow:k===0,xline:k===0,xtick:k===0,xstyle:'italic',rot:50,xsize:8.5,ymin:s.min,ymax:s.max,yt:s.yt,ysize:8.5,ymargin:3});
    gpBars(gi,xs,vals,tops,pal4,s.min,s.max,wpx);
  });
}
broken(75,188,[90,117.8,145.8,173.9],fIl12b,fIl12bErr,19,[
  {t:777.7,b:812.3,min:0,max:10,yt:[0,5,10]},{t:741,b:776.3,min:10,max:2000,yt:[1000,2000]},{t:704,b:739.6,min:2000,max:40000,yt:[20000,40000]}],stim4);
T(129,691,'Il12b',{size:9,style:'italic'});
BR(119,145,722,'**',7,1.5);BR(121,176.7,703,'**',7,1.5);
T(27,752,'Relative mRNA expression',{size:8.5,rot:Math.PI/2});T(38,752,'(Stimulation vs Unstimulated)',{size:8.5,rot:Math.PI/2});
broken(372,498,[387.7,419.4,450.6,482.2],gIl10,gIl10Err,21,[
  {t:760,b:811.3,min:0,max:100,yt:[0,20,40,60,80,100]},{t:707,b:758,min:100,max:4000,yt:[1000,2000,3000,4000]}],stim4);
T(432,690,'Il10',{size:9,style:'italic'});
BR(419,449.4,715.3,'**',7,1.5);BR(417.8,480.2,705,'*',7,1.5);
T(328,757,'Relative mRNA expression',{size:8.5,rot:Math.PI/2});T(339,757,'(Stimulation vs Unstimulated)',{size:8.5,rot:Math.PI/2});
broken(529.3,645,[543.3,572,600.3,629],gIfit3,gIfit3Err,19,[
  {t:775.7,b:810,min:0,max:50,yt:[0,10,20,30,40,50]},{t:704,b:773,min:50,max:500,yt:[100,200,300,400,500]}],stim4);
T(595,690,'Ifit3',{size:9,style:'italic'});
BR(575,597.7,719.3,'**',7,1.5);BR(601.7,632,716,'*',7,1.5);

// ---------- H / I ----------
function dots(l,w,t,h,ymax,yt,centers,groups,means,symbols){
  const sp=(centers[1]-centers[0]), xt=centers.map(c=>(c-centers[0])/sp);
  const gi=P({l,t,w,h,xmin:(l-centers[0])/sp,xmax:(l+w-centers[0])/sp,xt,xl:stim5,xshow:true,ymin:0,ymax,yt,ysize:8.5,rot:48,xsize:8.5,axisColor:'#444'});
  groups.forEach((pts,i)=>series.push({type:'scatter',xAxisIndex:gi,yAxisIndex:gi,silent:true,symbol:symbols[i],symbolRotate:i===3?180:0,symbolSize:4.5,z:4,clip:false,itemStyle:{color:pal5[i]},data:pts.map(q=>[xt[i]+q[0],q[1]])}));
  series.push({type:'custom',xAxisIndex:gi,yAxisIndex:gi,silent:true,z:3,clip:false,data:means.map((m,i)=>[xt[i]+m[0],m[1],m[2],i]),encode:{x:0,y:1},
    renderItem(p,api){const x=api.value(0),m=api.value(1),s=api.value(2),c=pal5[api.value(3)],a=api.coord([x,m]),u=api.coord([x,m+s]),d=api.coord([x,Math.max(0,m-s)]);
      const ln=(x1,y1,x2,y2)=>({type:'line',shape:{x1,y1,x2,y2},style:{stroke:c,lineWidth:1,opacity:.85}});
      return {type:'group',children:[ln(a[0]-8,a[1],a[0]+8,a[1]),ln(a[0],u[1],a[0],d[1]),ln(a[0]-4.5,u[1],a[0]+4.5,u[1]),ln(a[0]-4.5,d[1],a[0]+4.5,d[1])]};}});
}
function mfi(l,w,t,h,ymax,yt,centers,vals,tops,wpx){
  const sp=centers[1]-centers[0], xt=centers.map(c=>(c-centers[0])/sp);
  const gi=P({l,t,w,h,xmin:(l-centers[0])/sp,xmax:(l+w-centers[0])/sp,xt,xl:stim5,xshow:true,ymin:0,ymax,yt,ysize:8.5,rot:48,xsize:8.5,axisColor:'#333'});
  gpBars(gi,xt,vals,tops,palBar,0,ymax,wpx);
}
dots(59.3,123.4,900.7,96,100,[0,20,40,60,80,100],[70,94.6,119.2,143.9,168.3],hPct,hPctMean,['circle','rect','triangle','triangle','circle']);
T(36,948,'IL 12p40/70 % positive cells',{size:8.9,rot:Math.PI/2});
BR(120.7,143,928.7,'**',7,1.5);BR(118,175,908,'*',7,2.5);
mfi(254.3,125.7,900.7,96.3,1500,[0,500,1000,1500],[266.7,291,315.3,339.7,366.3],hMfi,hMfiErr,16.7);
T(222.7,946.7,'IL12p40/p70 MFI',{size:8.9,rot:Math.PI/2});
BR(318,340,966.7,'0.057',8,5);BR(320,364,908.7,'*',7,2.5);
dots(441,133,897,102,10,[0,2,4,6,8,10],[453.7,479.7,505.2,530.7,561],iPct,iPctMean,['circle','rect','triangle','triangle','circle']);
T(419,949,'IL 10 % positive cells',{size:8.6,rot:Math.PI/2});
BR(506,560.3,894.7,'0.054',8,5);BR(505.3,530,906.7,'*',7,2);
mfi(622.7,125,900.7,96.3,500,[0,100,200,300,400,500],[636,660,683.7,707.7,735.3],iMfi,iMfiErr,16.5);
T(595,950,'IL10 MFI',{size:8.6,rot:Math.PI/2});
BR(684,708.7,921,'*',7,2);BR(684,736.7,913.3,'*',7,2);

const chart=echarts.init(document.getElementById('c'),null,{renderer:'canvas'});
chart.setOption({animation:false,backgroundColor:'#fff',tooltip:{show:false},grid:grids,xAxis:xAxes,yAxis:yAxes,visualMap:vms,series,graphic:{elements:gfx}});
</script></body></html>
